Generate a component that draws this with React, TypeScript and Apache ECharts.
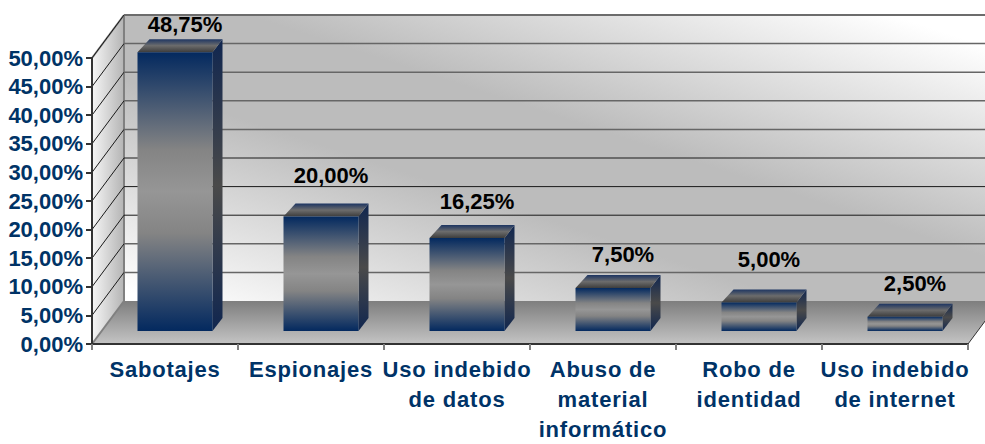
import React, { useEffect, useRef } from "react";
import * as echarts from "echarts";

const categories = [
  "Sabotajes",
  "Espionajes",
  "Uso indebido\nde datos",
  "Abuso de\nmaterial\ninformático",
  "Robo de\nidentidad",
  "Uso indebido\nde internet",
];
const values = [48.75, 20, 16.25, 7.5, 5, 2.5];
const ticks = [0, 5, 10, 15, 20, 25, 30, 35, 40, 45, 50];

const LABEL_DY = [15, 28, 24, 21, 30, 20];
const DEPTH_X = 32;
const DEPTH_Y = 43;
const BAR_W = 75;
const BAR_DX = 10;
const BAR_DY = 13;
const NAVY = "#003366";
const NAVY_CAT = "#003367";
const FONT = '"Liberation Sans", Arial, sans-serif';
const pct = (v: number) => v.toFixed(2).replace(".", ",") + "%";
const grad = (x: number, y: number, x2: number, y2: number, stops: [number, string][], global = false) =>
  new echarts.graphic.LinearGradient(x, y, x2, y2, stops.map(([offset, color]) => ({ offset, color })), global);

export default function App() {
  const ref = useRef<HTMLDivElement>(null);
  useEffect(() => {
    document.body.style.margin = "0";
    const chart = echarts.init(ref.current!, undefined, { renderer: "svg" });
    chart.setOption({
      animation: false,
      backgroundColor: "#ffffff",
      grid: { left: 92, top: 58, width: 876, height: 292, containLabel: false },
      xAxis: {
        type: "category",
        data: categories,
        z: 3,
        axisLine: { lineStyle: { color: "#333333", width: 2 } },
        axisTick: { show: true, length: 6, lineStyle: { color: "#808080", width: 2 } },
        axisLabel: {
          interval: 0,
          margin: 10,
          color: NAVY_CAT,
          fontFamily: FONT,
          fontWeight: "bold",
          fontSize: 22,
          lineHeight: 30,
        },
      },
      yAxis: {
        type: "value",
        min: 0,
        max: 50,
        interval: 5,
        z: 3,
        splitLine: { show: false },
        axisLine: { show: true, lineStyle: { color: "#333333", width: 2 } },
        axisTick: { show: true, length: 6, lineStyle: { color: "#333333", width: 2 } },
        axisLabel: {
          margin: 9,
          color: NAVY,
          fontFamily: FONT,
          fontWeight: "bold",
          fontSize: 22,
          formatter: (v: number) => pct(v),
        },
      },
      series: [
        {
          type: "custom",
          name: "walls",
          z: 1,
          silent: true,
          data: [[0, 0]],
          renderItem: (params: any, api: any) => {
            const c = params.coordSys;
            const L = c.x, R = c.x + c.width, T = c.y, B = c.y + c.height;
            const d = { x: DEPTH_X, y: DEPTH_Y };
            const gray = { stroke: "#808080", lineWidth: 2 };
            return {
              type: "group",
              children: [
                {
                  type: "polygon",
                  shape: { points: [[L + d.x, T - d.y], [R + d.x, T - d.y], [R + d.x, B - d.y], [L + d.x, B - d.y]] },
                  style: {
                    fill: grad(512, 418, 668, -58, [[0, "#ffffff"], [0.4, "#bcbcbc"], [0.6, "#bcbcbc"], [1, "#ffffff"]], true),
                  },
                },
                {
                  type: "polygon",
                  shape: { points: [[L, T], [L + d.x, T - d.y], [L + d.x, B - d.y], [L, B]] },
                  style: { fill: grad(0, 0, 1, 0, [[0, "#f6f6f6"], [1, "#b4b4b4"]]) },
                },
                {
                  type: "polygon",
                  shape: { points: [[L, B], [R, B], [R + d.x, B - d.y], [L + d.x, B - d.y]] },
                  style: { fill: grad(0, 0, 0, 1, [[0, "#7e7e7e"], [1, "#c4c4c4"]]) },
                },
                { type: "line", shape: { x1: L, y1: T, x2: L + d.x, y2: T - d.y }, style: gray },
                { type: "line", shape: { x1: L + d.x, y1: T - d.y, x2: R + d.x, y2: T - d.y }, style: gray },
                { type: "line", shape: { x1: L + d.x, y1: T - d.y, x2: L + d.x, y2: B - d.y }, style: gray },
                { type: "line", shape: { x1: L, y1: B, x2: L + d.x, y2: B - d.y }, style: gray },
                { type: "line", shape: { x1: R, y1: B, x2: R + d.x, y2: B - d.y }, style: { stroke: "#333333", lineWidth: 1 } },
              ],
            };
          },
        },
        {
          type: "custom",
          name: "gridlines",
          z: 2,
          silent: true,
          encode: { y: 0 },
          data: ticks.filter((t) => t > 0).map((t) => [t]),
          renderItem: (params: any, api: any) => {
            const c = params.coordSys;
            const v = api.value(0);
            const y = api.coord([0, v])[1];
            const dark = v >= 15 && v <= 25;
            const stroke = dark ? "#1a1a1a" : "#666666";
            const lineWidth = dark ? 1 : 1.5;
            return {
              type: "group",
              children: [
                { type: "line", shape: { x1: c.x, y1: y, x2: c.x + DEPTH_X, y2: y - DEPTH_Y }, style: { stroke: "#1a1a1a", lineWidth: 1 } },
                { type: "line", shape: { x1: c.x + DEPTH_X, y1: y - DEPTH_Y, x2: c.x + c.width + DEPTH_X, y2: y - DEPTH_Y }, style: { stroke, lineWidth } },
              ],
            };
          },
        },
        {
          type: "custom",
          name: "bars",
          z: 4,
          encode: { x: 0, y: 1 },
          data: values.map((v, i) => [i, v]),
          renderItem: (params: any, api: any) => {
            const i = api.value(0);
            const v = api.value(1);
            const top = api.coord([i, v]);
            const base = api.coord([i, 0]);
            const x0 = top[0] - BAR_W / 2 + BAR_DX;
            const x1 = x0 + BAR_W;
            const yT = top[1] - BAR_DY;
            const yB = base[1] - BAR_DY;
            const ink = [[0, "#03295f"], [0.35, "#848484"], [0.5, "#969696"], [0.65, "#848484"], [1, "#03295f"]] as [number, string][];
            return {
              type: "group",
              children: [
                {
                  type: "polygon",
                  shape: { points: [[x1, yT], [x1 + BAR_DX, yT - BAR_DY], [x1 + BAR_DX, yB - BAR_DY], [x1, yB]] },
                  style: { fill: grad(0, 0, 0, 1, [[0, "#10264f"], [0.5, "#4a4a4a"], [1, "#10264f"]]) },
                },
                {
                  type: "polygon",
                  shape: { points: [[x0, yT], [x0 + BAR_DX + 2, yT - BAR_DY], [x1 + BAR_DX, yT - BAR_DY], [x1, yT]] },
                  style: { fill: grad(0, 0, 0, 1, [[0, "#1d3562"], [0.5, "#6c6c6c"], [1, "#3c3c3c"]]) },
                },
                {
                  type: "rect",
                  shape: { x: x0, y: yT, width: BAR_W, height: yB - yT },
                  style: { fill: grad(0, 0, 0, 1, ink) },
                },
                {
                  type: "text",
                  style: {
                    x: top[0] + BAR_DX * 2,
                    y: yT - BAR_DY - LABEL_DY[i],
                    text: pct(v),
                    align: "center",
                    verticalAlign: "middle",
                    fill: "#000000",
                    font: `bold 22px ${FONT}`,
                  },
                },
              ],
            };
          },
        },
      ],
    });
    return () => chart.dispose();
  }, []);
  return (
    <>
      <style>{`text[fill="${NAVY_CAT}"]{letter-spacing:0.8px}`}</style>
      <div ref={ref} style={{ width: 985, height: 444 }} />
    </>
  );
}
